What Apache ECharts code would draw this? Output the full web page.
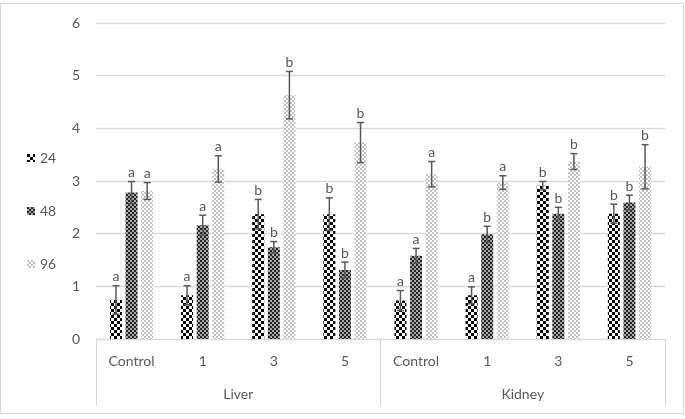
<!DOCTYPE html>
<html>
<head>
<meta charset="utf-8">
<script src="https://cdn.jsdelivr.net/npm/echarts@6/dist/echarts.min.js"></script>
<style>
  html, body { margin: 0; padding: 0; background: #fff; }
  #chart { width: 685px; height: 419px; }
</style>
</head>
<body>
<div id="chart"></div>
<script>
// data
var categories = ['Control', '1', '3', '5', 'Control', '1', '3', '5'];
var groups = ['Liver', 'Kidney'];
var seriesNames = ['24', '48', '96'];
var yTicks = [0, 1, 2, 3, 4, 5, 6];

var vals24 = [0.74, 0.83, 2.37, 2.37, 0.73, 0.83, 2.91, 2.38];
var vals48 = [2.78, 2.16, 1.74, 1.31, 1.58, 1.99, 2.38, 2.59];
var vals96 = [2.81, 3.23, 4.63, 3.73, 3.13, 2.97, 3.37, 3.27];

var err24 = [0.27, 0.18, 0.28, 0.31, 0.19, 0.16, 0.08, 0.18];
var err48 = [0.21, 0.19, 0.11, 0.15, 0.14, 0.15, 0.12, 0.14];
var err96 = [0.16, 0.25, 0.45, 0.38, 0.24, 0.13, 0.15, 0.42];

var letters24 = ['a', 'a', 'b', 'b', 'a', 'a', 'b', 'b'];
var letters48 = ['a', 'a', 'b', 'b', 'a', 'b', 'b', 'b'];
var letters96 = ['a', 'a', 'b', 'b', 'a', 'a', 'b', 'b'];

var textColor = '#595959';
var lineColor = '#d9d9d9';
var font = 'Lato, "Open Sans", sans-serif';

// small canvas tiles for the Excel-like pattern fills
function makeTile(size, cell, dark, light) {
    var c = document.createElement('canvas');
    c.width = size;
    c.height = size;
    var ctx = c.getContext('2d');
    ctx.fillStyle = light;
    ctx.fillRect(0, 0, size, size);
    ctx.fillStyle = dark;
    ctx.fillRect(0, 0, cell, cell);
    ctx.fillRect(cell, cell, cell, cell);
    return { image: c, repeat: 'repeat' };
}

var pattern24 = makeTile(6, 3, '#000', '#fff');
var pattern48 = makeTile(4, 2, '#262626', '#a6a6a6');
var pattern96 = makeTile(4, 2, '#c2c2c2', '#fff');

var barWidth = 12;
var barOffset = 15.6;

function errData(vals, errs, letters) {
    return vals.map(function (v, i) {
        return [i, v - errs[i], v + errs[i], letters[i]];
    });
}

function errSeries(name, vals, errs, letters, offset) {
    return {
        name: name,
        type: 'custom',
        z: 5,
        silent: true,
        data: errData(vals, errs, letters),
        renderItem: function (params, api) {
            var i = api.value(0);
            var lo = api.coord([i, api.value(1)]);
            var hi = api.coord([i, api.value(2)]);
            var x = lo[0] + offset;
            var cap = 3.5;
            var st = { stroke: textColor, lineWidth: 1.5 };
            return {
                type: 'group',
                children: [
                    { type: 'line', shape: { x1: x, y1: lo[1], x2: x, y2: hi[1] }, style: st },
                    { type: 'line', shape: { x1: x - cap, y1: lo[1], x2: x + cap, y2: lo[1] }, style: st },
                    { type: 'line', shape: { x1: x - cap, y1: hi[1], x2: x + cap, y2: hi[1] }, style: st },
                    {
                        type: 'text',
                        style: {
                            text: letters[params.dataIndex],
                            x: x,
                            y: hi[1] - 2,
                            align: 'center',
                            verticalAlign: 'bottom',
                            fill: textColor,
                            font: '14px ' + font
                        }
                    }
                ]
            };
        }
    };
}

var chart = echarts.init(document.getElementById('chart'));
chart.setOption({
    animation: false,
    textStyle: { fontFamily: font },
    grid: { left: 96, right: 20, top: 23, bottom: 80 },
    legend: {
        data: seriesNames,
        orient: 'vertical',
        left: 22,
        top: 146,
        itemWidth: 8,
        itemHeight: 8,
        itemGap: 39,
        icon: 'rect',
        textStyle: { color: textColor, fontSize: 14, fontFamily: font },
        selectedMode: false
    },
    xAxis: [
        {
            type: 'category',
            data: categories,
            axisLine: { lineStyle: { color: lineColor, width: 1 } },
            axisTick: { show: false },
            axisLabel: { color: textColor, fontSize: 14, margin: 15, interval: 0 }
        },
        {
            type: 'category',
            data: groups,
            position: 'bottom',
            axisLine: { show: false },
            axisTick: { show: true, length: 67, lineStyle: { color: lineColor } },
            axisLabel: { color: textColor, fontSize: 14, margin: 48 }
        }
    ],
    yAxis: {
        type: 'value',
        min: yTicks[0],
        max: yTicks[yTicks.length - 1],
        interval: 1,
        axisLine: { show: false },
        axisTick: { show: false },
        axisLabel: { color: textColor, fontSize: 14, margin: 16 },
        splitLine: { lineStyle: { color: lineColor, width: 1.3 } }
    },
    graphic: [
        {
            type: 'rect',
            shape: { x: 0.5, y: 3.5, width: 683, height: 410 },
            style: { fill: null, stroke: lineColor, lineWidth: 1 },
            silent: true,
            z: -10
        }
    ],
    series: [
        { name: '24', type: 'bar', barWidth: barWidth, barGap: '30%', data: vals24, itemStyle: { color: pattern24 } },
        { name: '48', type: 'bar', barWidth: barWidth, barGap: '30%', data: vals48, itemStyle: { color: pattern48 } },
        { name: '96', type: 'bar', barWidth: barWidth, barGap: '30%', data: vals96, itemStyle: { color: pattern96 } },
        errSeries('err24', vals24, err24, letters24, -barOffset),
        errSeries('err48', vals48, err48, letters48, 0),
        errSeries('err96', vals96, err96, letters96, barOffset)
    ]
});
</script>
</body>
</html>
